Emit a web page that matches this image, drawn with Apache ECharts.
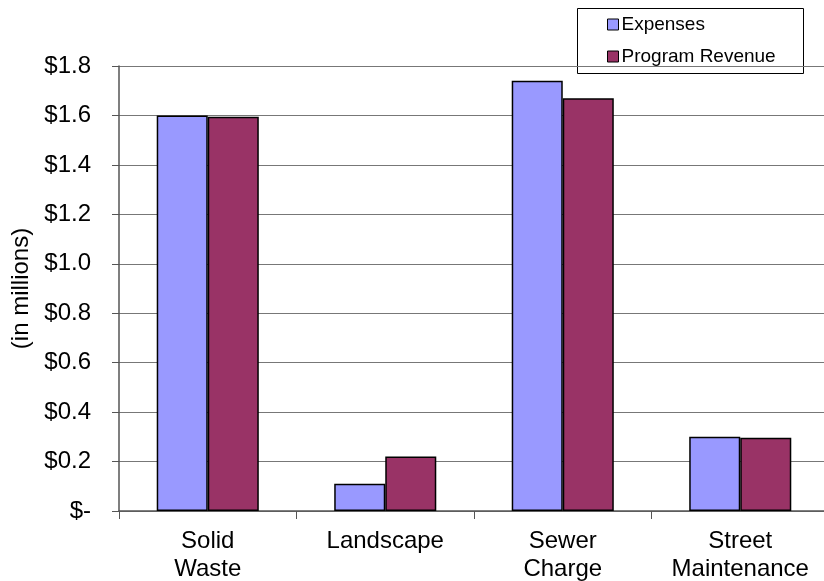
<!DOCTYPE html>
<html>
<head>
<meta charset="utf-8">
<script src="https://cdn.jsdelivr.net/npm/echarts@6/dist/echarts.min.js"></script>
<style>
  html, body { margin: 0; padding: 0; background: #fff; }
  #chart { width: 824px; height: 581px; }
</style>
</head>
<body>
<div id="chart"></div>
<script>
// Categories and values (in millions of dollars)
const categories = ['Solid\nWaste', 'Landscape', 'Sewer\nCharge', 'Street\nMaintenance'];
const expenses = [1.60, 0.11, 1.74, 0.30];
const programRevenue = [1.595, 0.22, 1.67, 0.296];
const seriesNames = ['Expenses', 'Program Revenue'];
const yTicks = [0, 0.2, 0.4, 0.6, 0.8, 1.0, 1.2, 1.4, 1.6, 1.8];

const FONT = '"Liberation Sans", Arial, sans-serif';
const chart = echarts.init(document.getElementById('chart'), null, { renderer: 'canvas' });

chart.setOption({
  backgroundColor: '#ffffff',
  animation: false,
  textStyle: { fontFamily: FONT },
  grid: {
    left: 119, top: 66, width: 710, height: 445,
    containLabel: false,
    outerBoundsMode: 'none'
  },
  legend: {
    orient: 'vertical',
    left: 607,
    top: 15,
    padding: 0,
    itemWidth: 11,
    itemHeight: 11,
    itemGap: 13,
    icon: 'rect',
    data: seriesNames,
    itemStyle: { borderColor: '#000', borderWidth: 1 },
    textStyle: { fontFamily: FONT, fontSize: 19, color: '#000', padding: [0, 0, 0, -2] }
  },
  graphic: [{
    type: 'rect',
    shape: { x: 577.5, y: 8.5, width: 226, height: 65 },
    style: { fill: 'none', stroke: '#000', lineWidth: 1 },
    z: -1
  }],
  xAxis: {
    type: 'category',
    data: categories,
    axisLine: { show: true, lineStyle: { color: '#555', width: 1.5 } },
    axisTick: { show: true, length: 8, lineStyle: { color: '#555' } },
    axisLabel: {
      color: '#000', fontSize: 24, lineHeight: 28, margin: 16, fontFamily: FONT,
      interval: 0, hideOverlap: false
    },
    splitLine: { show: false }
  },
  yAxis: {
    type: 'value',
    min: 0,
    max: 1.8,
    interval: 0.2,
    name: '(in millions)',
    nameLocation: 'middle',
    nameRotate: 90,
    nameGap: 84,
    nameTextStyle: { fontSize: 24, color: '#000', fontFamily: FONT },
    axisLine: { show: true, lineStyle: { color: '#555', width: 1.5 } },
    axisTick: { show: true, inside: false, length: 7, lineStyle: { color: '#555' } },
    axisLabel: {
      color: '#000', fontSize: 24, margin: 28, fontFamily: FONT,
      formatter: v => {
        const t = yTicks.find(x => Math.abs(x - v) < 1e-9);
        if (t === undefined) return '';
        return t === 0 ? '$-' : '$' + t.toFixed(1);
      }
    },
    splitLine: { show: true, lineStyle: { color: '#777', width: 1 } }
  },
  series: [
    {
      name: seriesNames[0],
      type: 'bar',
      data: expenses,
      barGap: '0%',
      barCategoryGap: '42.5%',
      itemStyle: { color: '#9999FF', borderColor: '#000', borderWidth: 1.5 }
    },
    {
      name: seriesNames[1],
      type: 'bar',
      data: programRevenue,
      barGap: '0%',
      barCategoryGap: '42.5%',
      itemStyle: { color: '#993366', borderColor: '#000', borderWidth: 1.5 }
    }
  ]
});
</script>
</body>
</html>
